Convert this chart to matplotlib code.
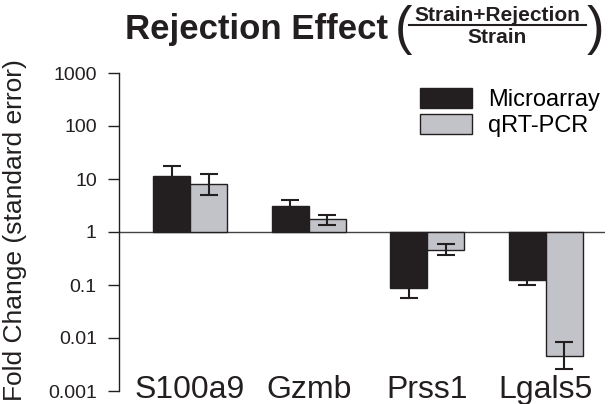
import matplotlib
matplotlib.use("Agg")
import numpy as np
import matplotlib.pyplot as plt
from matplotlib.patches import Patch
from matplotlib.lines import Line2D

plt.rcParams['font.family'] = ['Liberation Sans', 'DejaVu Sans']

# data (fold change, log scale)
genes = ['S100a9', 'Gzmb', 'Prss1', 'Lgals5']
series_names = ['Microarray', 'qRT-PCR']
microarray = [11.5, 3.1, 0.087, 0.125]
microarray_lo = [7.4, 2.43, 0.056, 0.099]
microarray_hi = [17.8, 3.96, 0.135, 0.158]
qpcr = [7.9, 1.74, 0.457, 0.00457]
qpcr_lo = [5.0, 1.36, 0.373, 0.00257]
qpcr_hi = [12.6, 2.09, 0.586, 0.0084]
ytick_vals = [1000, 100, 10, 1, 0.1, 0.01, 0.001]
ytick_labels = ['1000', '100', '10', '1', '0.1', '0.01', '0.001']

black = '#231f20'
grey = '#c1c3c9'

W, H = 608, 404
fig = plt.figure(figsize=(W / 100, H / 100), dpi=100)
ax = fig.add_axes([119 / W, 1 - 391 / H, 486 / W, 318 / H])

x = np.arange(len(genes))
w = 0.312


def draw_series(xpos, vals, lo, hi, color):
    vals = np.array(vals)
    # bars grow up or down from the fold change of 1
    ax.bar(xpos, vals - 1, bottom=1, width=w,
           color=color, edgecolor=black, linewidth=1, zorder=2)
    yerr = [vals - np.array(lo), np.array(hi) - vals]
    ax.errorbar(xpos, vals, yerr=yerr, fmt='none', ecolor=black,
                elinewidth=1.5, capsize=6.5, capthick=1.5, zorder=3)


draw_series(x - w / 2, microarray, microarray_lo, microarray_hi, black)
draw_series(x + w / 2, qpcr, qpcr_lo, qpcr_hi, grey)

ax.set_yscale('log')
ax.set_ylim(0.001, 1000)
ax.set_xlim(-0.6, 3.5)
ax.axhline(1, color='#444444', linewidth=1, zorder=1)

for s in ['top', 'right', 'bottom']:
    ax.spines[s].set_visible(False)
ax.spines['left'].set_color(black)
ax.spines['left'].set_linewidth(1)

ax.set_yticks(ytick_vals)
ax.set_yticklabels(ytick_labels, fontsize=14, color=black)
ax.yaxis.set_minor_locator(matplotlib.ticker.NullLocator())
ax.tick_params(axis='y', direction='out', length=8, width=1, pad=8, color=black)
ax.set_xticks([])

trans = matplotlib.transforms.blended_transform_factory(ax.transData, ax.transAxes)
for xi, g in zip(x, genes):
    ax.text(xi, -0.021, g, transform=trans, ha='center', va='baseline',
            fontsize=23, color=black, clip_on=False)

fig.text(15 / W, 1 - 230 / H, 'Fold Change (standard error)', rotation=90,
         ha='center', va='center', fontsize=19, color=black)

# title with fraction
fig.text(125 / W, 1 - 39 / H, 'Rejection Effect', fontsize=25, fontweight='bold',
         ha='left', va='baseline', color=black)
fig.text(403 / W, 1 - 44 / H, '(', fontsize=38, ha='center', va='baseline', color=black)
fig.text(595 / W, 1 - 44 / H, ')', fontsize=38, ha='center', va='baseline', color=black)
fig.text(497 / W, 1 - 21 / H, 'Strain+Rejection', fontsize=15, fontweight='bold',
         ha='center', va='baseline', color=black)
fig.text(497 / W, 1 - 43 / H, 'Strain', fontsize=15, fontweight='bold',
         ha='center', va='baseline', color=black)
fig.add_artist(Line2D([409 / W, 586 / W], [1 - 25 / H, 1 - 25 / H],
                      transform=fig.transFigure, color=black, linewidth=1.5))

handles = [Patch(facecolor=black, edgecolor=black, linewidth=1),
           Patch(facecolor=grey, edgecolor=black, linewidth=1)]
ax.legend(handles, series_names, loc='upper left',
          bbox_to_anchor=(420 / W, 1 - 88 / H), bbox_transform=fig.transFigure,
          frameon=False, fontsize=17, handlelength=2.2, handleheight=0.9,
          handletextpad=0.7, labelspacing=0.15, borderpad=0, borderaxespad=0)

fig.savefig('out.png', dpi=100)
